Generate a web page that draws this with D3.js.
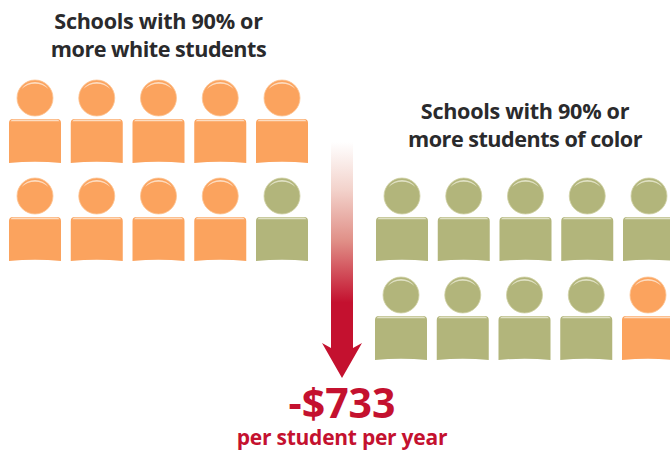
<!DOCTYPE html>
<html><head><meta charset="utf-8">
<script src="https://cdn.jsdelivr.net/npm/d3@7"></script>
<style>html,body{margin:0;padding:0;background:#fff}svg{display:block}text{font-family:"Open Sans",sans-serif;font-weight:700}</style>
</head><body><svg id="c" width="670" height="450"></svg>
<script>
// Data: the 10 icons in each group; "w" = orange, "c" = olive
const leftIcons  = ["w","w","w","w","w","w","w","w","w","c"];
const rightIcons = ["c","c","c","c","c","c","c","c","c","w"];
const leftTitle  = ["Schools with 90% or","more white students"];
const rightTitle = ["Schools with 90% or","more students of color"];
const gapValue = "-$733";
const gapLabel = "per student per year";
const colors = {w:"#FBA35E", c:"#B2B57B"};
const edge   = {w:"#FDC596", c:"#D0D2A6"};
const shine  = {w:"#FDDCC0", c:"#E0E1C4"};
const red = "#C4112F", ink = "#2A2A2C";

const svg = d3.select("#c");
const defs = svg.append("defs");
const grad = defs.append("linearGradient").attr("id","arrowGrad").attr("x1",0).attr("x2",0).attr("y1",0).attr("y2",1)
  .attr("gradientUnits","objectBoundingBox");
grad.append("stop").attr("offset","0").attr("stop-color","#FFFFFF");
grad.append("stop").attr("offset","0.2").attr("stop-color","#F3D3CC");
grad.append("stop").attr("offset","0.42").attr("stop-color","#E08F87");
grad.append("stop").attr("offset","0.68").attr("stop-color",red);
grad.append("stop").attr("offset","1").attr("stop-color",red);

const colIdx = d3.range(5), rowIdx = d3.range(2);
const bodyW = 52, bodyH = 44, headR = 18;

function drawGroup(icons, x0, rowTops, xShift){
  const x = d3.scalePoint().domain(colIdx).range([x0, x0 + 4*61.75]);
  const y = d3.scaleOrdinal().domain(rowIdx).range(rowTops);
  const g = svg.append("g");
  const item = g.selectAll("g").data(icons).join("g")
    .attr("transform",(d,i)=>{
      const r = Math.floor(i/5), c = i%5;
      return `translate(${x(c) + (r===1?xShift:0)},${y(r)})`;
    });
  // head
  item.append("circle").attr("cx",bodyW/2).attr("cy",-21).attr("r",headR)
    .attr("fill",d=>colors[d]).attr("stroke",d=>edge[d]).attr("stroke-width",0.8);
  item.append("path").attr("d",`M${bodyW/2-13.5},-30 A16.5,16.5 0 0 1 ${bodyW/2+13.5},-30 A20,20 0 0 0 ${bodyW/2-13.5},-30Z`)
    .attr("fill",d=>shine[d]);
  // body, with a slightly concave bottom
  item.append("path")
    .attr("d",`M0,4 Q0,0 4,0 L${bodyW-4},0 Q${bodyW},0 ${bodyW},4 L${bodyW},${bodyH} Q${bodyW/2},${bodyH-2.6} 0,${bodyH} Z`)
    .attr("fill",d=>colors[d]);
  item.append("path")
    .attr("d",`M1.5,2.2 Q2.5,0.6 4,0.6 L${bodyW-4},0.6 Q${bodyW-2.5},0.6 ${bodyW-1.5},2.2 Z`)
    .attr("fill",d=>shine[d]);
}
drawGroup(leftIcons, 9, [119,217], 0);
drawGroup(rightIcons, 376, [217,316], -1);

function title(lines, cx, y0){
  svg.append("g").selectAll("text").data(lines).join("text")
    .attr("x",cx).attr("y",(d,i)=>y0+i*28)
    .attr("text-anchor","middle").attr("font-size",21.6)
    .attr("letter-spacing",(d,i)=>i===0?-0.3:-0.5).attr("fill",ink).text(d=>d);
}
title(leftTitle,158.5,29);
title(rightTitle,525,119);

// arrow
svg.append("path")
  .attr("d","M331,142 L353,142 L353,348 L362,343 L342,378 L322,343 L331,348 Z")
  .attr("fill","url(#arrowGrad)");

svg.append("text").attr("x",342).attr("y",418).attr("text-anchor","middle")
  .attr("font-size",41).attr("fill",red).text(gapValue);
svg.append("text").attr("x",342).attr("y",445).attr("text-anchor","middle")
  .attr("font-size",21).attr("letter-spacing",-0.25).attr("fill",red).text(gapLabel);
</script></body></html>
